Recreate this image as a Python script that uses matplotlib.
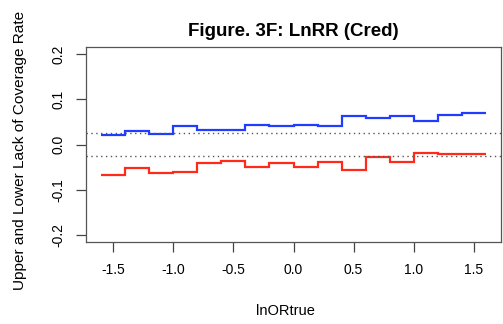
import matplotlib
matplotlib.use("Agg")
import matplotlib.pyplot as plt
import numpy as np

plt.rcParams['font.family'] = ['Liberation Sans', 'DejaVu Sans']

# bin edges of lnORtrue
edges = [-1.6, -1.4, -1.2, -1.0, -0.8, -0.6, -0.4, -0.2, 0.0,
         0.2, 0.4, 0.6, 0.8, 1.0, 1.2, 1.4, 1.6]
upper = [0.020, 0.030, 0.024, 0.042, 0.033, 0.032, 0.044, 0.040,
         0.043, 0.041, 0.064, 0.058, 0.063, 0.053, 0.065, 0.070]
lower = [-0.067, -0.052, -0.063, -0.062, -0.041, -0.037, -0.050, -0.040,
         -0.050, -0.038, -0.056, -0.027, -0.038, -0.019, -0.022, -0.021]
ref_lines = [0.025, -0.025]
xticks = [-1.5, -1.0, -0.5, 0.0, 0.5, 1.0, 1.5]
yticks = [-0.2, -0.1, 0.0, 0.1, 0.2]

fig = plt.figure(figsize=(5.03, 3.24), dpi=100)
ax = fig.add_axes([86/503, 1-242/324, (501-86)/503, (242-47)/324])

ax.stairs(upper, edges, color='#1f3cff', lw=1.6, baseline=None)
ax.stairs(lower, edges, color='#ff2a1a', lw=1.6, baseline=None)
for h in ref_lines:
    ax.axhline(h, color='#555555', lw=1.0, ls=(0, (1, 2.5)))

ax.set_xlim(-1.728, 1.728)
ax.set_ylim(-0.216, 0.216)
ax.set_xticks(xticks)
ax.set_xticklabels([f"{t:.1f}" for t in xticks])
ax.set_yticks(yticks)
ax.set_yticklabels([f"{t:.1f}" for t in yticks], rotation=90, va='center')
ax.tick_params(axis='both', length=7, width=0.9, color='#444444', labelsize=10, pad=8)
for s in ax.spines.values():
    s.set_color('#555555')
    s.set_linewidth(0.9)

ax.set_title("Figure. 3F: LnRR (Cred)", fontsize=13.5, fontweight='bold', pad=8)
ax.set_xlabel("lnORtrue", fontsize=10.5)
ax.xaxis.set_label_coords((285-86)/415, (242-304)/195)
ax.set_ylabel("Upper and Lower Lack of Coverage Rate", fontsize=11.1)
ax.yaxis.set_label_coords((27-86)/415, (242-150.5)/195)

fig.savefig("out.png", dpi=100)
